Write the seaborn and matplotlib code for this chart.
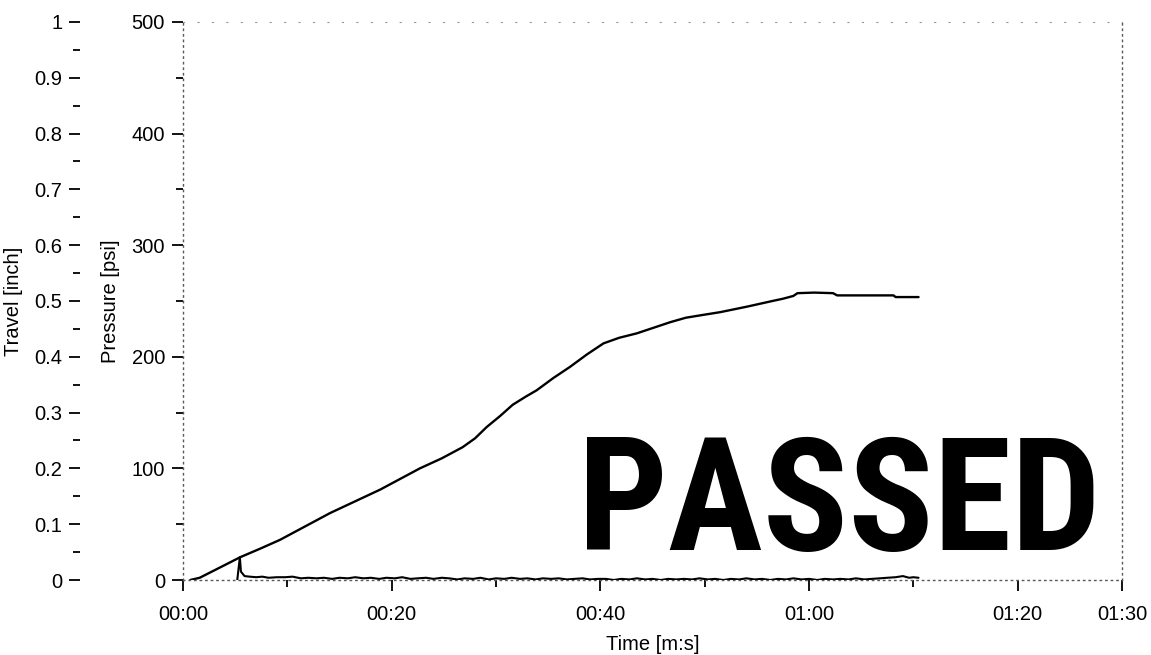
import matplotlib
matplotlib.use('Agg')
import matplotlib.pyplot as plt
import seaborn as sns
from matplotlib.ticker import FuncFormatter, MultipleLocator, FixedLocator

# Pressure trace (time in seconds, pressure in psi)
pressure_time = [0.7, 1.6, 3.5, 5.5, 7.5, 9.3, 11.7, 14.1, 16.5, 18.9,
                 20.8, 22.7, 24.8, 26.8, 28.0, 29.1, 30.4, 31.6, 32.8, 33.9,
                 35.5, 37.1, 38.7, 40.3, 41.8, 43.5, 45.1, 46.7, 48.2, 49.5,
                 51.5, 52.8, 54.1, 55.3, 56.5, 57.5, 58.5, 58.9, 60.5, 62.3,
                 62.7, 68.1, 68.3, 70.5]
pressure = [0, 2, 11, 20.5, 28.5, 36, 48, 60, 70.5, 81,
            90.5, 100, 109, 119, 127, 137, 147, 157, 164, 170,
            181, 191, 202, 212, 217, 221, 226, 231, 235, 237,
            240, 242.5, 245, 247.5, 250, 252, 254.5, 257, 257.5, 257,
            255, 255, 253.5, 253.5]

# Travel trace (time in seconds, travel in inch)
travel_time = [5.2, 5.45, 5.55, 5.9, 6.4, 7.0, 7.6, 8.2, 9.0, 9.8,
               10.5, 11.3, 12.0, 12.8, 13.5, 14.3, 15.0, 15.8, 16.5, 17.3,
               18.0, 18.8, 19.5, 20.3, 21.0, 21.8, 22.5, 23.3, 24.0, 24.8,
               25.5, 26.3, 27.0, 27.8, 28.5, 29.3, 30.0, 30.8, 31.5, 32.3,
               33.0, 33.8, 34.5, 35.3, 36.0, 36.8, 37.5, 38.3, 39.0, 39.8,
               40.5, 41.3, 42.0, 42.8, 43.5, 44.3, 45.0, 45.8, 46.5, 47.3,
               48.0, 48.8, 49.5, 50.3, 51.0, 51.8, 52.5, 53.3, 54.0, 54.8,
               55.5, 56.3, 57.0, 57.8, 58.5, 59.3, 60.0, 60.8, 61.5, 62.3,
               63.0, 63.8, 64.5, 65.3, 66.0, 66.8, 67.5, 68.3, 69.0, 69.6,
               70.0, 70.5]
travel = [0.0, 0.041, 0.015, 0.007, 0.006, 0.005, 0.006, 0.004, 0.005, 0.005,
          0.006, 0.003, 0.004, 0.003, 0.004, 0.002, 0.004, 0.003, 0.005, 0.003,
          0.004, 0.002, 0.004, 0.003, 0.005, 0.002, 0.003, 0.004, 0.002, 0.004,
          0.003, 0.001, 0.003, 0.002, 0.004, 0.001, 0.003, 0.002, 0.004, 0.002,
          0.003, 0.001, 0.003, 0.002, 0.003, 0.001, 0.002, 0.003, 0.001, 0.002,
          0.002, 0.000, 0.002, 0.001, 0.003, 0.001, 0.002, 0.000, 0.002, 0.001,
          0.002, 0.001, 0.003, 0.001, 0.002, 0.000, 0.002, 0.001, 0.003, 0.001,
          0.002, 0.000, 0.002, 0.001, 0.003, 0.001, 0.002, 0.000, 0.002, 0.001,
          0.002, 0.001, 0.003, 0.001, 0.002, 0.003, 0.004, 0.005, 0.007, 0.004,
          0.005, 0.004]

time_ticks = [0, 20, 40, 60, 80, 90]
time_minor = [10, 30, 50, 70]

sns.set_style('ticks')
plt.rcParams['font.family'] = ['Liberation Sans', 'DejaVu Sans']
plt.rcParams['text.color'] = 'black'
plt.rcParams['axes.labelcolor'] = 'black'
plt.rcParams['xtick.color'] = 'black'
plt.rcParams['ytick.color'] = 'black'

fig = plt.figure(figsize=(11.51, 6.55), dpi=100)
ax = fig.add_axes([0.159, 0.1145, 0.8158, 0.852])
ax2 = ax.twinx()

sns.lineplot(x=pressure_time, y=pressure, ax=ax, color='black', linewidth=1.7)
sns.lineplot(x=travel_time, y=travel, ax=ax2, color='black', linewidth=1.5)

ax.set_xlim(0, 90)
ax.set_ylim(0, 500)
ax2.set_ylim(0, 1)

# x axis
ax.xaxis.set_major_locator(FixedLocator(time_ticks))
ax.xaxis.set_minor_locator(FixedLocator(time_minor))
ax.xaxis.set_major_formatter(FuncFormatter(lambda s, p: f"{int(s) // 60:02d}:{int(s) % 60:02d}"))
ax.set_xlabel('Time [m:s]', fontsize=14.5, labelpad=8)

# pressure axis
ax.yaxis.set_major_locator(MultipleLocator(100))
ax.yaxis.set_minor_locator(MultipleLocator(50))
ax.set_ylabel('Pressure [psi]', fontsize=14.5, labelpad=8)

# travel axis on the far left
ax2.yaxis.set_ticks_position('left')
ax2.yaxis.set_label_position('left')
ax2.spines['left'].set_position(('outward', 74))
ax2.yaxis.set_major_locator(MultipleLocator(0.1))
ax2.yaxis.set_minor_locator(MultipleLocator(0.05))
ax2.yaxis.set_major_formatter(FuncFormatter(lambda v, p: f"{v:g}"))
ax2.set_ylabel('Travel [inch]', fontsize=14.5, labelpad=8)
for s in ['left', 'right', 'top', 'bottom']:
    ax2.spines[s].set_visible(False)

for a in (ax, ax2):
    a.tick_params(which='major', length=8, width=1.3, labelsize=14.5, pad=5, direction='out')
    a.tick_params(which='minor', length=5, width=1.3, direction='out')
ax.tick_params(axis='x', which='major', pad=10)

# dotted frame
for s in ['left', 'right', 'bottom']:
    ax.spines[s].set_visible(True)
    ax.spines[s].set_linestyle((0, (1, 3)))
    ax.spines[s].set_color('0.35')
    ax.spines[s].set_linewidth(1.0)
ax.spines['top'].set_linestyle((0, (1, 12)))
ax.spines['top'].set_color('0.6')
ax.spines['top'].set_linewidth(0.8)

ax.text(62.9, 65, 'PASSED', fontsize=114, fontweight='bold', fontstretch='condensed',
        family=['Liberation Sans Narrow', 'Roboto Condensed', 'Liberation Sans'],
        ha='center', va='center', color='black')

fig.savefig('out.png', dpi=100)
